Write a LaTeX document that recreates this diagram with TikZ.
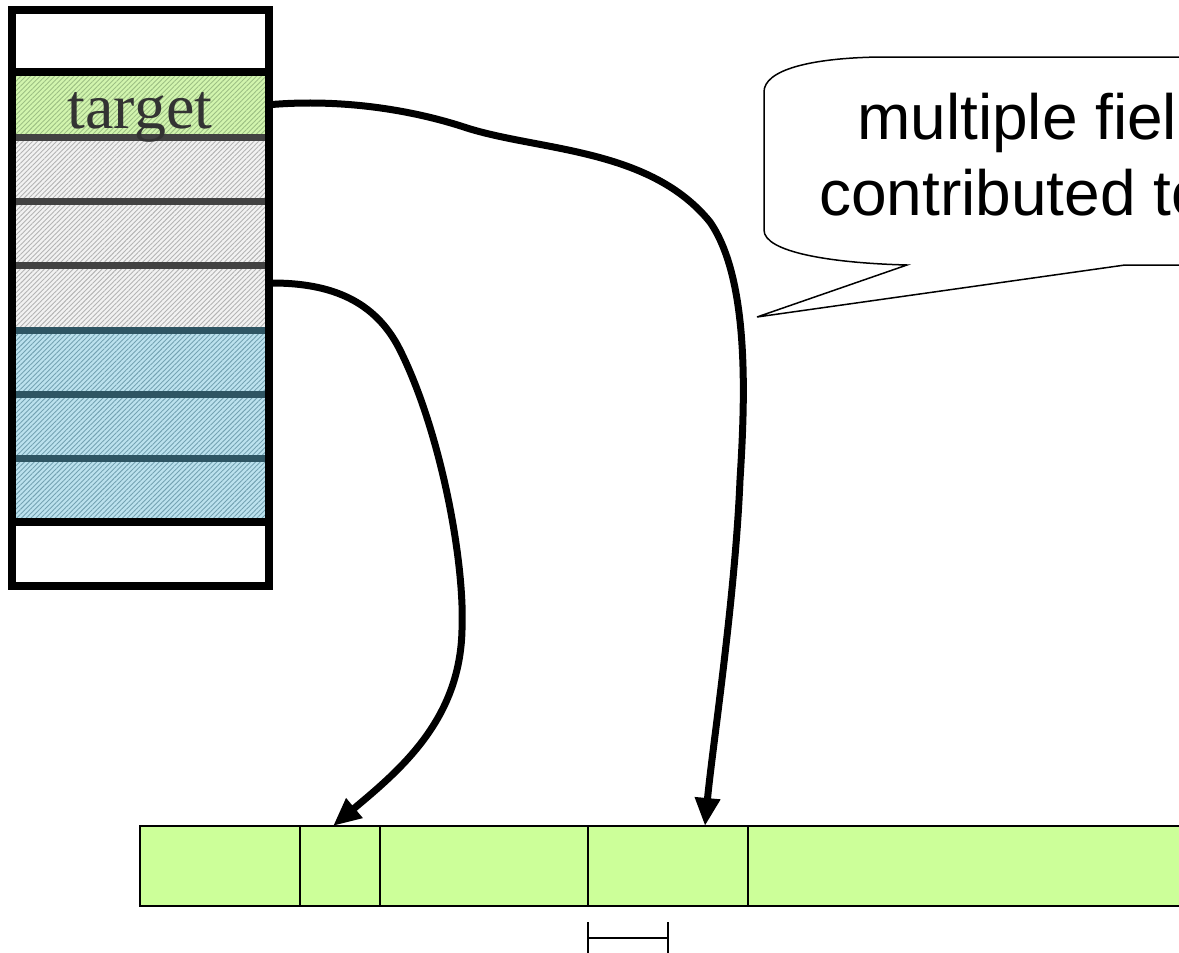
\documentclass[tikz,border=0pt]{standalone}
\usepackage{fontspec}
\setmainfont{Liberation Serif}
\newfontfamily\calloutfont{Liberation Sans}
\usetikzlibrary{arrows.meta,patterns.meta,calc}

\definecolor{barGreen}{HTML}{CCFF99}
\definecolor{rowGreen}{HTML}{D2F5AE}
\definecolor{hatchGreen}{HTML}{9DBF84}
\definecolor{rowGray}{HTML}{F2F2F2}
\definecolor{hatchGray}{HTML}{B4B4B4}
\definecolor{rowBlue}{HTML}{BCE2EE}
\definecolor{hatchBlue}{HTML}{74A2B2}
\definecolor{sepGray}{HTML}{424242}
\definecolor{sepBlue}{HTML}{2E5563}
\definecolor{labelGray}{HTML}{333333}

\tikzset{
  stackrow/.style={rectangle, inner sep=0pt, outer sep=0pt,
    minimum width=257pt, line width=7pt},
  greenrow/.style={stackrow, draw=sepGray, preaction={fill=rowGreen},
    pattern={Lines[angle=45,distance=3.4pt,line width=0.9pt]},
    pattern color=hatchGreen},
  grayrow/.style={stackrow, draw=sepGray, preaction={fill=rowGray},
    pattern={Lines[angle=45,distance=3.4pt,line width=0.9pt]},
    pattern color=hatchGray},
  bluerow/.style={stackrow, draw=sepBlue, preaction={fill=rowBlue},
    pattern={Lines[angle=45,distance=3.4pt,line width=0.9pt]},
    pattern color=hatchBlue},
  blankrow/.style={stackrow, draw=black, line width=8pt, fill=white},
  link/.style={line width=7pt, -{Triangle[length=28pt,width=24pt]}},
  barcell/.style={rectangle, inner sep=0pt, outer sep=0pt, draw=black,
    line width=1.8pt, fill=barGreen, minimum height=80pt},
  callout/.style={draw=black, line width=1.5pt, fill=white},
  tick/.style={draw=black, line width=1.6pt},
}

\begin{document}
\begin{tikzpicture}[x=1pt,y=-1pt]
  \useasboundingbox (0,0) rectangle (1179,953);
  \clip (0,0) rectangle (1179,953);

  % stack of fields
  \node[greenrow, minimum height=65pt] (r1) at (140.5,104.5) {};
  \node[grayrow,  minimum height=64pt] (r2) at (140.5,169) {};
  \node[grayrow,  minimum height=64pt] (r3) at (140.5,233) {};
  \node[grayrow,  minimum height=65pt] (r4) at (140.5,297.5) {};
  \node[bluerow,  minimum height=64pt] (r5) at (140.5,362) {};
  \node[bluerow,  minimum height=64pt] (r6) at (140.5,426) {};
  \node[bluerow,  minimum height=64pt] (r7) at (140.5,490) {};
  \node[blankrow, minimum height=62pt] (top) at (140.5,41) {};
  \node[blankrow, minimum height=64pt] (bottom) at (140.5,554) {};
  \draw[line width=8pt] (top.north west) rectangle (bottom.south east);
  \node[anchor=base, text=labelGray, inner sep=0pt,
        font=\fontsize{64}{64}\selectfont] (targetlabel) at (140,128) {target};

  % speech bubble
  \draw[callout] (907,265) -- (757,317) -- (1125,265) -- (1200,265)
    -- (1200,57) -- (880,57)
    .. controls (810,58) and (764,70) .. (764,92)
    -- (764,230)
    .. controls (764,252) and (830,263) .. (907,265) -- cycle;
  \node[anchor=base west, inner sep=0pt, font=\calloutfont\fontsize{64}{64}\selectfont]
    (note1) at (857,139) {multiple fields};
  \node[anchor=base west, inner sep=0pt, font=\calloutfont\fontsize{64}{64}\selectfont]
    (note2) at (819,215) {contributed to};

  % target buffer
  \node[barcell, minimum width=160pt] (c1) at (220,866) {};
  \node[barcell, minimum width=80pt]  (c2) at (340,866) {};
  \node[barcell, minimum width=208pt] (c3) at (484,866) {};
  \node[barcell, minimum width=160pt] (c4) at (668,866) {};
  \node[barcell, minimum width=480pt] (c5) at (988,866) {};

  % size marker
  \draw[tick] (c4.south west) ++(0,16) -- ++(0,40);
  \draw[tick] (c4.south west) ++(80,16) -- ++(0,40);
  \draw[tick] (c4.south west) ++(0,32) -- ++(80,0);

  % connectors
  \coordinate (s2) at ($(r4.north east)+(3,18)$);
  \coordinate (e1) at ($(c4.north)+(37,0)$);
  \coordinate (e2) at ($(c2.north)+(-7,0)$);
  \draw[link] ($(r1.east)+(3,0)$)
    .. controls (340,99) and (410,109) .. (467,128)
    .. controls (540,151) and (650,148) .. (710,222)
    .. controls (750,280) and (745,400) .. (740,480)
    .. controls (735,600) and (712,750) .. (e1);
  \draw[link] (s2)
    .. controls (330,283) and (375,300) .. (400,350)
    .. controls (440,430) and (465,560) .. (462,630)
    .. controls (460,720) and (400,770) .. (e2);
\end{tikzpicture}
\end{document}
